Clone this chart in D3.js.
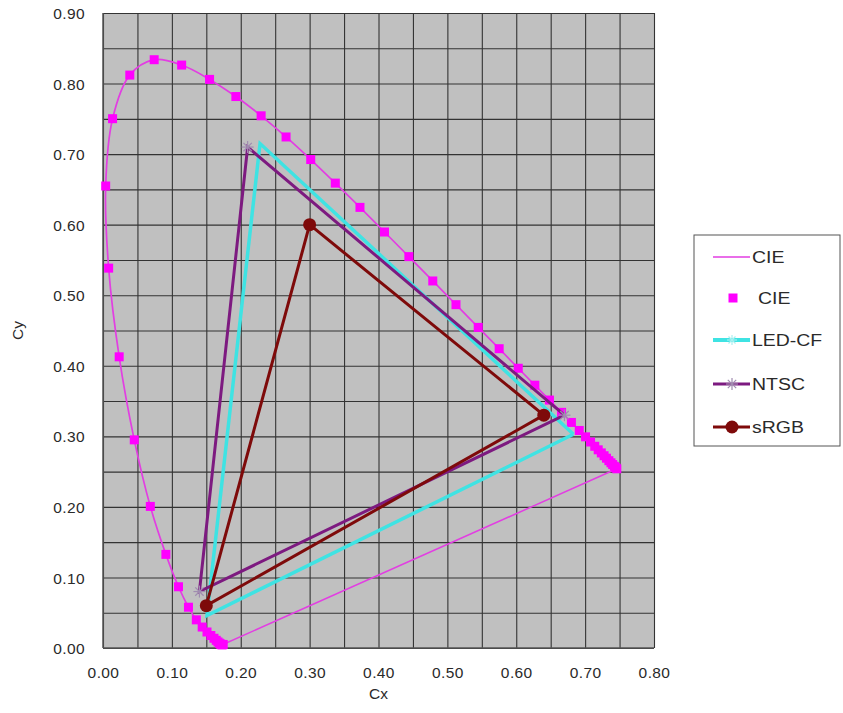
<!DOCTYPE html>
<html><head><meta charset="utf-8">
<script src="https://cdn.jsdelivr.net/npm/d3@7"></script>
<style>
html,body{margin:0;padding:0;background:#fff;}
svg text{font-family:"Liberation Sans",Arial,sans-serif;fill:#2a2a2a;}
</style></head>
<body>
<svg id="chart" width="843" height="713"></svg>
<script>
// ---- data ----
const xTicks = [0,0.1,0.2,0.3,0.4,0.5,0.6,0.7,0.8];
const yTicks = [0,0.1,0.2,0.3,0.4,0.5,0.6,0.7,0.8,0.9];
const cieX = [0.1741,0.1740,0.1738,0.1736,0.1733,0.1730,0.1726,0.1721,0.1714,0.1703,0.1689,0.1669,0.1644,0.1611,0.1566,0.1510,0.1440,0.1355,0.1241,0.1096,0.0913,0.0687,0.0454,0.0235,0.0082,0.0039,0.0139,0.0389,0.0743,0.1142,0.1547,0.1929,0.2296,0.2658,0.3016,0.3373,0.3731,0.4087,0.4441,0.4788,0.5125,0.5448,0.5752,0.6029,0.6270,0.6482,0.6658,0.6801,0.6915,0.7006,0.7079,0.7140,0.7190,0.7235,0.7275,0.7310,0.7345,0.7375,0.7400,0.7425,0.7445,0.7460];
const cieY = [0.0050,0.0050,0.0049,0.0049,0.0048,0.0048,0.0048,0.0048,0.0051,0.0058,0.0069,0.0086,0.0109,0.0138,0.0177,0.0227,0.0297,0.0399,0.0578,0.0868,0.1327,0.2007,0.2950,0.4127,0.5384,0.6548,0.7502,0.8120,0.8338,0.8262,0.8059,0.7816,0.7543,0.7243,0.6923,0.6589,0.6245,0.5896,0.5547,0.5202,0.4866,0.4544,0.4242,0.3965,0.3725,0.3514,0.3340,0.3197,0.3083,0.2993,0.2920,0.2859,0.2809,0.2765,0.2725,0.2690,0.2655,0.2625,0.2600,0.2575,0.2555,0.2540];
const ledX = [0.683,0.228,0.151,0.683];
const ledY = [0.303,0.715,0.046,0.303];
const ntscX = [0.67,0.21,0.14,0.67];
const ntscY = [0.33,0.71,0.08,0.33];
const srgbX = [0.64,0.30,0.15,0.64];
const srgbY = [0.33,0.60,0.06,0.33];
const legendLabels = ["CIE","CIE","LED-CF","NTSC","sRGB"];

const zip = (a,b)=>a.map((v,i)=>[v,b[i]]);
const cie = zip(cieX,cieY), led = zip(ledX,ledY), ntsc = zip(ntscX,ntscY), srgb = zip(srgbX,srgbY);

const col = {cieLine:"#e23ee2", ciePt:"#ff00ff", led:"#3fe3e3", ntsc:"#7d1a80", ntscMk:"#a08cb0", srgb:"#7e0a0a"};

const svg = d3.select("#chart");
const x = d3.scaleLinear().domain([0,0.8]).range([103,654]);
const y = d3.scaleLinear().domain([0,0.9]).range([648,13]);

// plot background
svg.append("rect").attr("x",x(0)).attr("y",y(0.9)).attr("width",x(0.8)-x(0)).attr("height",y(0)-y(0.9)).attr("fill","#c0c0c0");

// grid
const gx = d3.range(0,0.8001,0.05), gy = d3.range(0,0.9001,0.05);
svg.append("g").attr("transform",`translate(0,${y(0)})`)
  .call(d3.axisBottom(x).tickValues(gx).tickSize(-(y(0)-y(0.9))).tickFormat(""))
  .call(g=>g.select(".domain").remove())
  .call(g=>g.selectAll("line").attr("stroke","#333").attr("stroke-width",1.1));
svg.append("g").attr("transform",`translate(${x(0)},0)`)
  .call(d3.axisLeft(y).tickValues(gy).tickSize(-(x(0.8)-x(0))).tickFormat(""))
  .call(g=>g.select(".domain").remove())
  .call(g=>g.selectAll("line").attr("stroke","#333").attr("stroke-width",1.1));
// axis edges
svg.append("line").attr("x1",x(0)).attr("x2",x(0.8)).attr("y1",y(0)).attr("y2",y(0)).attr("stroke","#555").attr("stroke-width",1.5);
svg.append("line").attr("x1",x(0)).attr("x2",x(0)).attr("y1",y(0)).attr("y2",y(0.9)).attr("stroke","#555").attr("stroke-width",1.5);

// tick labels
const fmt = d3.format(".2f");
const ax = svg.append("g").attr("transform",`translate(0,${y(0)})`)
  .call(d3.axisBottom(x).tickValues(xTicks).tickSize(0).tickPadding(0).tickFormat(fmt));
ax.select(".domain").remove();
ax.selectAll("text").attr("font-size",15.5).attr("dy",null).attr("y",30).style("letter-spacing","0.4px")
  .style("font-family","'Liberation Sans',Arial,sans-serif").attr("fill","#2a2a2a");
const ay = svg.append("g").attr("transform",`translate(${x(0)},0)`)
  .call(d3.axisLeft(y).tickValues(yTicks).tickSize(0).tickPadding(0).tickFormat(fmt));
ay.select(".domain").remove();
ay.selectAll("text").attr("font-size",15.5).attr("x",-18).attr("dy","0.36em").style("letter-spacing","0.4px")
  .style("font-family","'Liberation Sans',Arial,sans-serif").attr("fill","#2a2a2a");

// axis titles
svg.append("text").attr("x",(x(0)+x(0.8))/2).attr("y",699).attr("text-anchor","middle").attr("font-size",15.5).text("Cx");
svg.append("text").attr("transform",`translate(23,${(y(0)+y(0.9))/2}) rotate(-90)`).attr("text-anchor","middle").attr("font-size",15.5).text("Cy");

const plot = svg.append("g");
const lineS = d3.line().x(d=>x(d[0])).y(d=>y(d[1]));
// CIE locus (smoothed) + closing purple line
plot.append("path").datum(cie).attr("d",lineS.curve(d3.curveCatmullRom.alpha(0.5))).attr("fill","none").attr("stroke",col.cieLine).attr("stroke-width",1.7);
const lineL = d3.line().x(d=>x(d[0])).y(d=>y(d[1]));
plot.append("path").datum([cie[cie.length-1],cie[0]]).attr("d",lineL).attr("fill","none").attr("stroke",col.cieLine).attr("stroke-width",1.5);
plot.selectAll("rect.cie").data(cie).join("rect").attr("class","cie")
  .attr("x",d=>x(d[0])-4.5).attr("y",d=>y(d[1])-4.5).attr("width",9).attr("height",9).attr("fill",col.ciePt);

// LED-CF
plot.append("path").datum(led).attr("d",lineL).attr("fill","none").attr("stroke",col.led).attr("stroke-width",3.5).attr("stroke-linejoin","miter");
// NTSC
plot.append("path").datum(ntsc).attr("d",lineL).attr("fill","none").attr("stroke",col.ntsc).attr("stroke-width",3).attr("stroke-linejoin","miter");
function asterisk(g,cx,cy,r,color){
  const a = g.append("g").attr("transform",`translate(${cx},${cy})`);
  [[-r,0,r,0],[-r*0.7,-r*0.7,r*0.7,r*0.7],[-r*0.7,r*0.7,r*0.7,-r*0.7],[0,-r,0,r]].forEach(s=>{
    a.append("line").attr("x1",s[0]).attr("y1",s[1]).attr("x2",s[2]).attr("y2",s[3]).attr("stroke",color).attr("stroke-width",1.2);
  });
}
ntsc.slice(0,3).forEach(d=>asterisk(plot,x(d[0]),y(d[1]),6,col.ntscMk));
// sRGB
plot.append("path").datum(srgb).attr("d",lineL).attr("fill","none").attr("stroke",col.srgb).attr("stroke-width",3).attr("stroke-linejoin","miter");
plot.selectAll("circle.srgb").data(srgb.slice(0,3)).join("circle").attr("class","srgb")
  .attr("cx",d=>x(d[0])).attr("cy",d=>y(d[1])).attr("r",6.5).attr("fill",col.srgb);

// legend
const lg = svg.append("g");
lg.append("rect").attr("x",694).attr("y",235).attr("width",146).attr("height",211).attr("fill","#fff").attr("stroke","#555").attr("stroke-width",1);
const ly = [257,298,340,384,427];
lg.append("line").attr("x1",713).attr("x2",750).attr("y1",ly[0]).attr("y2",ly[0]).attr("stroke",col.cieLine).attr("stroke-width",1.5);
lg.append("rect").attr("x",728.5).attr("y",ly[1]-4.5).attr("width",9).attr("height",9).attr("fill",col.ciePt);
lg.append("line").attr("x1",713).attr("x2",750).attr("y1",ly[2]).attr("y2",ly[2]).attr("stroke",col.led).attr("stroke-width",4);
asterisk(lg,732,ly[2],5,"#a8f0f0");
lg.append("line").attr("x1",713).attr("x2",750).attr("y1",ly[3]).attr("y2",ly[3]).attr("stroke",col.ntsc).attr("stroke-width",3);
asterisk(lg,732,ly[3],6,col.ntscMk);
lg.append("line").attr("x1",713).attr("x2",750).attr("y1",ly[4]).attr("y2",ly[4]).attr("stroke",col.srgb).attr("stroke-width",3);
lg.append("circle").attr("cx",732).attr("cy",ly[4]).attr("r",6.5).attr("fill",col.srgb);
legendLabels.forEach((t,i)=>{
  lg.append("text").attr("transform",`translate(${i===1?758:752},${ly[i]}) scale(1.18,1)`).attr("dy","0.36em").attr("font-size",16.5).text(t);
});
</script>
</body></html>
